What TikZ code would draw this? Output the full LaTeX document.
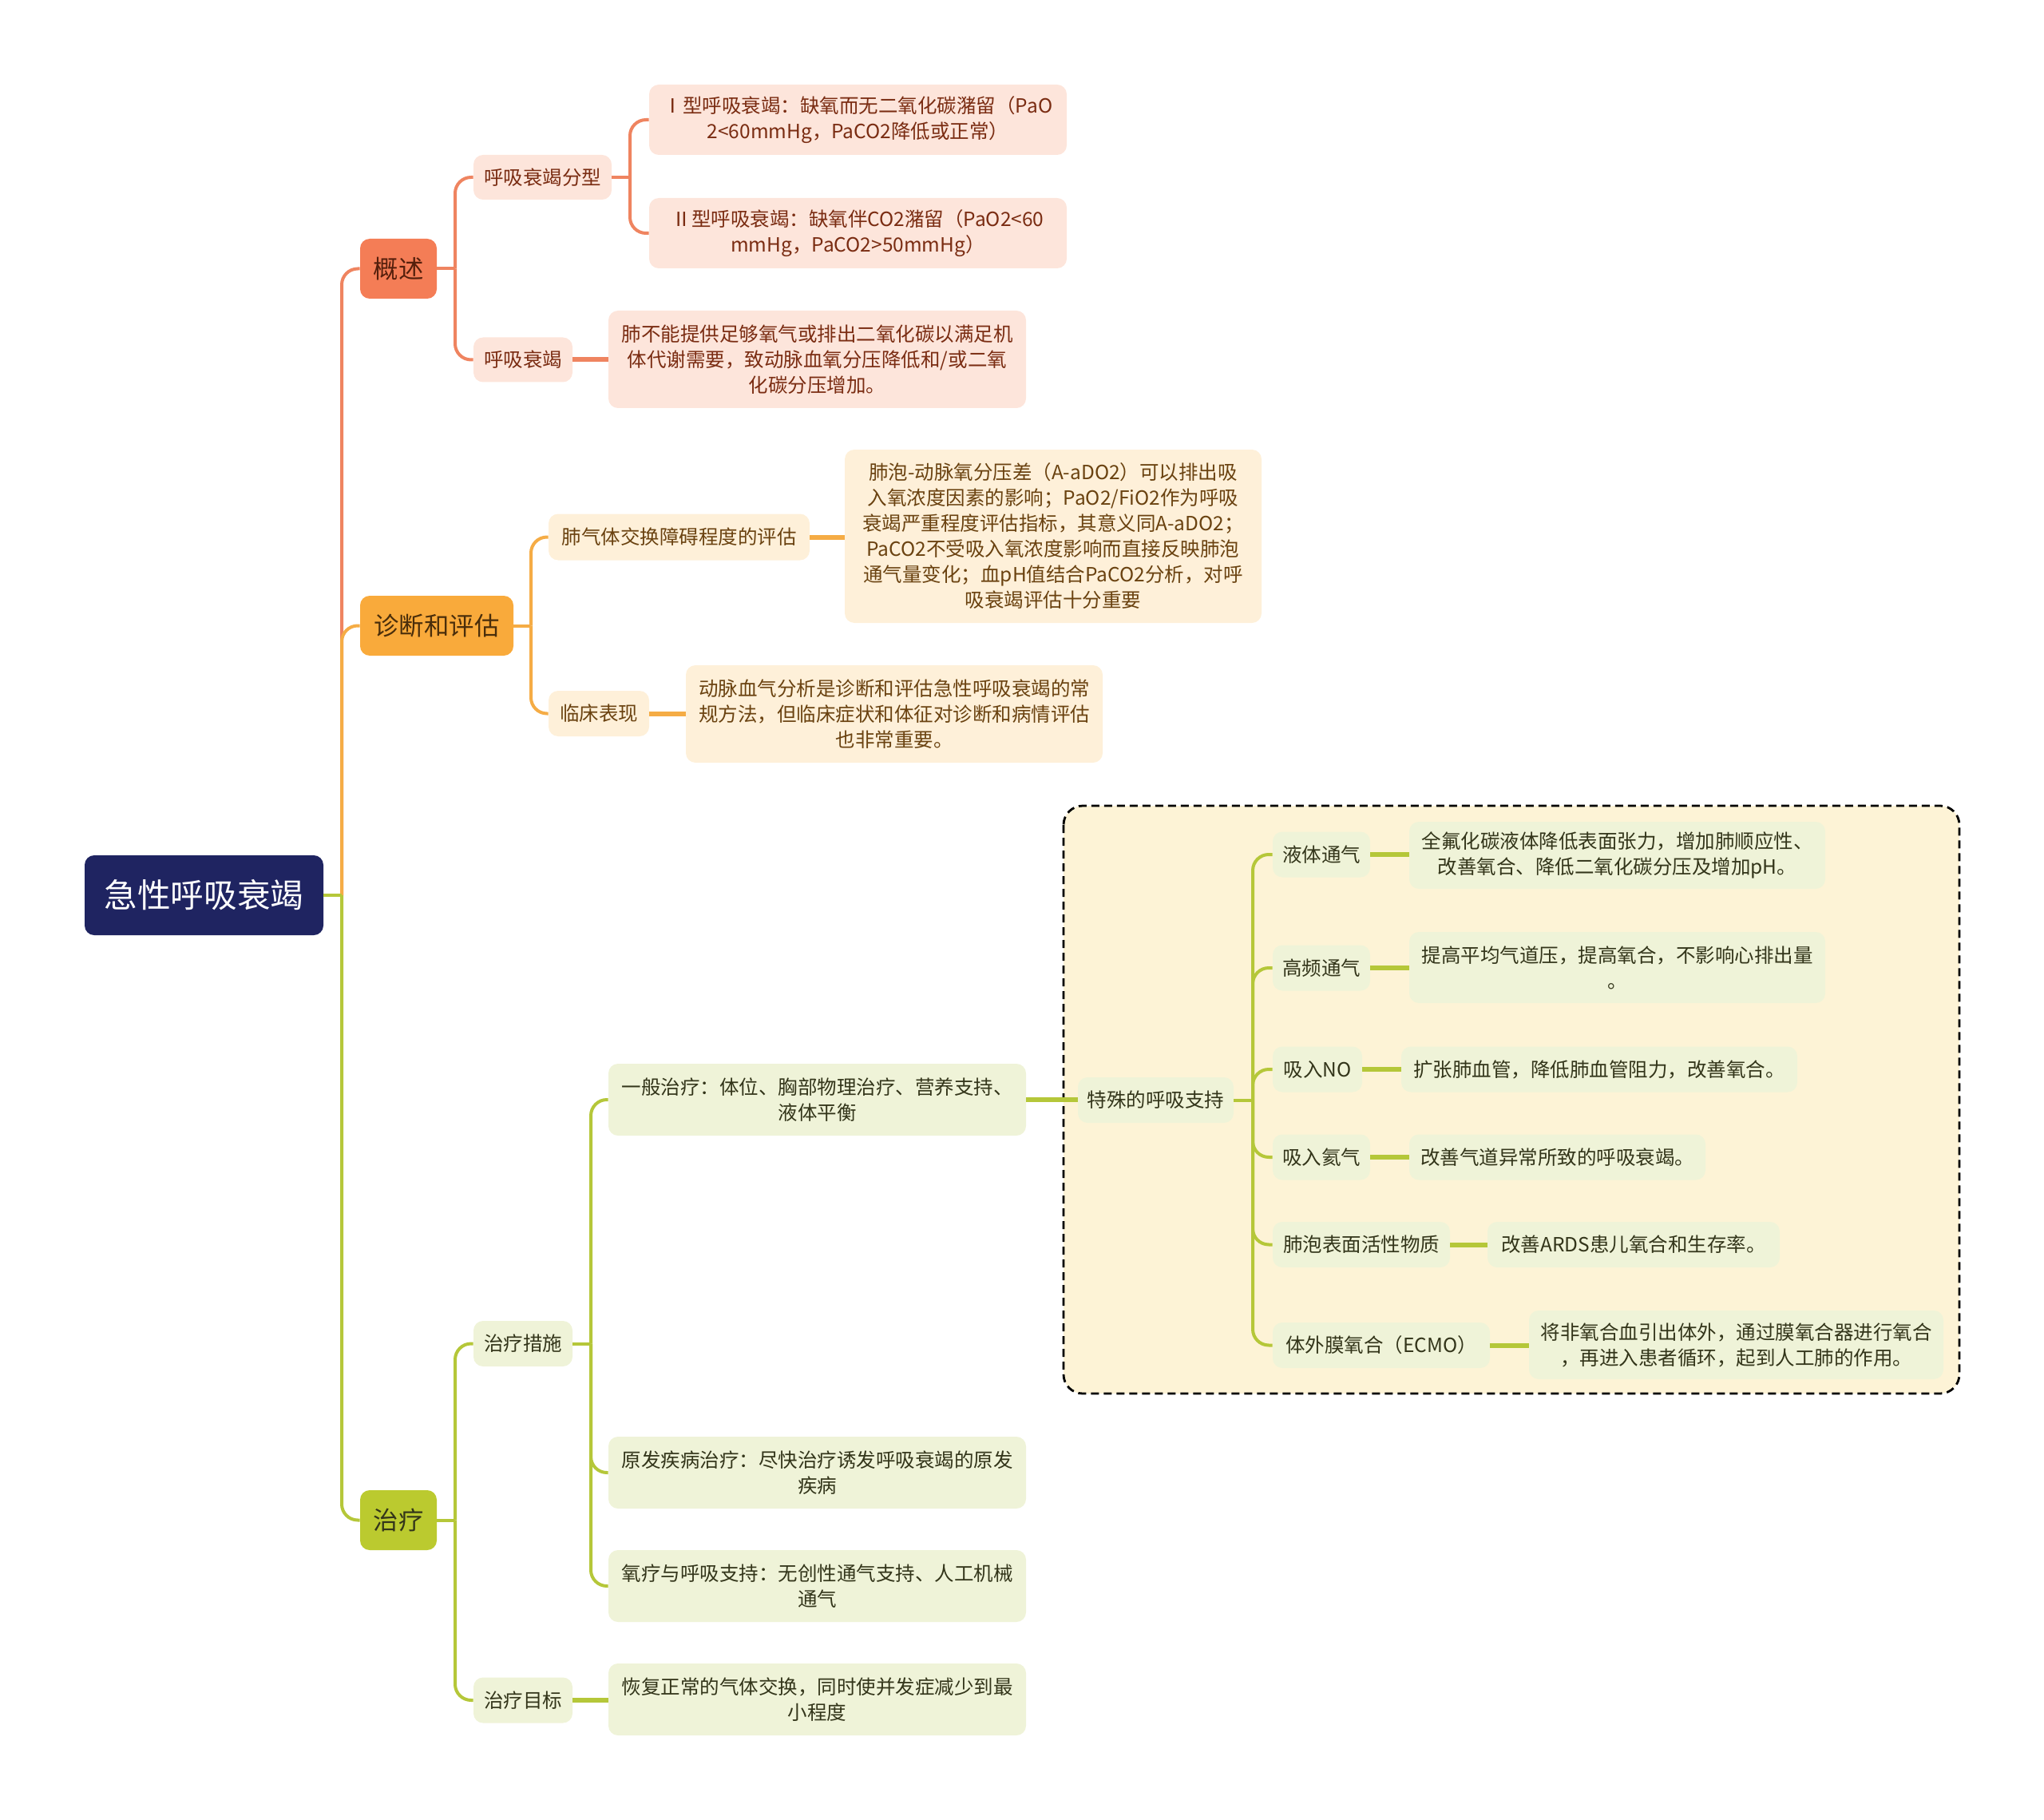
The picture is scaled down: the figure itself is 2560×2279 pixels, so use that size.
\documentclass[tikz,border=0pt]{standalone}
\usepackage{fontspec}
\setmainfont{Noto Sans CJK SC}
\usepackage{xcolor}
\usepackage{tikz}
\definecolor{navyRoot}{HTML}{1F2461}
\definecolor{coralMain}{HTML}{F47D56}
\definecolor{coralLine}{HTML}{EF8460}
\definecolor{coralPale}{HTML}{FDE5DB}
\definecolor{coralText}{HTML}{7A2C12}
\definecolor{amberMain}{HTML}{F9AA3B}
\definecolor{amberLine}{HTML}{F5AC45}
\definecolor{amberPale}{HTML}{FEF0D9}
\definecolor{amberText}{HTML}{6A4210}
\definecolor{oliveMain}{HTML}{BBCA2F}
\definecolor{oliveLine}{HTML}{B5C739}
\definecolor{olivePale}{HTML}{EFF3D8}
\definecolor{oliveText}{HTML}{33351A}
\definecolor{creamFrame}{HTML}{FDF3D6}

\begin{document}
\begin{tikzpicture}[x=0.5pt,y=-0.5pt]

            \useasboundingbox (0,0) rectangle (2560,2279);

            \tikzset{
                mapbox/.style={
                    rounded corners=6pt,
                    inner sep=0pt,
                    align=center,
                    font=\fontsize{12.25pt}{16pt}\selectfont
                },
                rootbox/.style={mapbox, fill=navyRoot, text=white,
                    font=\fontsize{20.8pt}{24pt}\selectfont},
                topicbox/.style={mapbox, font=\fontsize{15.7pt}{19pt}\selectfont},
                coralbox/.style={mapbox, fill=coralPale, text=coralText},
                amberbox/.style={mapbox, fill=amberPale, text=amberText},
                olivebox/.style={mapbox, fill=olivePale, text=oliveText},
                trunkline/.style={line width=2pt},
                leafline/.style={line width=3pt}
            }

            % name, style, centre x, centre y, width, height, text
            \newcommand{\MapNode}[7]{%
                \node[#2, minimum width=#5*0.5pt, minimum height=#6*0.5pt] (#1) at (#3,#4) {#7};
            }

            % colour, parent, trunk, child
            \newcommand{\Branch}[4]{%
                \draw[trunkline, #1] (#2.east) -- (#2.east -| #3);
                \draw[trunkline, #1, rounded corners=10pt] (#2.east -| #3) |- (#4.west);
            }

            \newcommand{\Leaf}[3]{%
                \draw[leafline, #1] (#2.east) -- (#2.east -| #3.west);
            }

            % dashed frame round the special support
            \draw[fill=creamFrame, dashed, dash pattern=on 5pt off 3pt,
                line width=1.4pt, rounded corners=12pt] (1332,1009) rectangle (2454,1745);

            \coordinate (rootTrunk) at (428,0);
            \coordinate (gaishuTrunk) at (570,0);
            \coordinate (fenxingTrunk) at (789,0);
            \coordinate (zhenduanTrunk) at (665,0);
            \coordinate (zhiliaoTrunk) at (570,0);
            \coordinate (cuoshiTrunk) at (740,0);
            \coordinate (teshuTrunk) at (1569,0);

            \MapNode{root}{rootbox}{255.5}{1121}{299}{100}{急性呼吸衰竭}

            \MapNode{gaishu}{topicbox, fill=coralMain, text=coralText!70!black}{499}{336.5}{96}{75}{概述}
            \MapNode{zhenduan}{topicbox, fill=amberMain, text=amberText!70!black}{547}{783.5}{192}{75}{诊断和评估}
            \MapNode{zhiliao}{topicbox, fill=oliveMain, text=oliveText}{499}{1903.5}{96}{75}{治疗}

            \MapNode{fenxing}{coralbox}{679.5}{222}{173}{56}{呼吸衰竭分型}
            \MapNode{shuaijie}{coralbox}{655}{450.5}{124}{56}{呼吸衰竭}
            \MapNode{typeOne}{coralbox}{1074.5}{150}{523}{88}{Ⅰ型呼吸衰竭：缺氧而无二氧化碳潴留（PaO\\2<60mmHg，PaCO2降低或正常）}
            \MapNode{typeTwo}{coralbox}{1074.5}{292}{523}{88}{Ⅱ型呼吸衰竭：缺氧伴CO2潴留（PaO2<60\\mmHg，PaCO2>50mmHg）}
            \MapNode{dingyi}{coralbox}{1023.5}{450}{523}{122}{肺不能提供足够氧气或排出二氧化碳以满足机\\体代谢需要，致动脉血氧分压降低和/或二氧\\化碳分压增加。}

            \MapNode{pinggu}{amberbox}{850.5}{672.5}{327}{58}{肺气体交换障碍程度的评估}
            \MapNode{linchuang}{amberbox}{750}{893.5}{126}{57}{临床表现}
            \MapNode{fenya}{amberbox}{1319}{671.5}{522}{217}{肺泡-动脉氧分压差（A-aDO2）可以排出吸\\入氧浓度因素的影响；PaO2/FiO2作为呼吸\\衰竭严重程度评估指标，其意义同A-aDO2；\\PaCO2不受吸入氧浓度影响而直接反映肺泡\\通气量变化；血pH值结合PaCO2分析，对呼\\吸衰竭评估十分重要}
            \MapNode{xueqi}{amberbox}{1120}{894}{522}{122}{动脉血气分析是诊断和评估急性呼吸衰竭的常\\规方法，但临床症状和体征对诊断和病情评估\\也非常重要。}

            \MapNode{cuoshi}{olivebox}{655}{1682.5}{124}{57}{治疗措施}
            \MapNode{mubiao}{olivebox}{655}{2129}{124}{57}{治疗目标}
            \MapNode{yiban}{olivebox}{1023.5}{1377}{523}{90}{一般治疗：体位、胸部物理治疗、营养支持、\\液体平衡}
            \MapNode{yuanfa}{olivebox}{1023.5}{1844}{523}{90}{原发疾病治疗：尽快治疗诱发呼吸衰竭的原发\\疾病}
            \MapNode{yangliao}{olivebox}{1023.5}{1986}{523}{90}{氧疗与呼吸支持：无创性通气支持、人工机械\\通气}
            \MapNode{huifu}{olivebox}{1023.5}{2128}{523}{90}{恢复正常的气体交换，同时使并发症减少到最\\小程度}

            \MapNode{teshu}{olivebox}{1447.5}{1377.5}{195}{57}{特殊的呼吸支持}
            \MapNode{yeti}{olivebox}{1655}{1070}{122}{57}{液体通气}
            \MapNode{gaopin}{olivebox}{1655}{1212}{122}{57}{高频通气}
            \MapNode{xiruNO}{olivebox}{1650}{1339}{112}{57}{吸入NO}
            \MapNode{haiqi}{olivebox}{1655}{1449}{122}{57}{吸入氦气}
            \MapNode{huoxing}{olivebox}{1705}{1558.5}{222}{57}{肺泡表面活性物质}
            \MapNode{ecmo}{olivebox}{1730}{1684.5}{272}{57}{体外膜氧合（ECMO）}
            \MapNode{yetiNote}{olivebox}{2025.5}{1071}{521}{84}{全氟化碳液体降低表面张力，增加肺顺应性、\\改善氧合、降低二氧化碳分压及增加pH。}
            \MapNode{gaopinNote}{olivebox}{2025.5}{1211.5}{521}{89}{提高平均气道压，提高氧合，不影响心排出量\\。}
            \MapNode{xiruNote}{olivebox}{2003}{1339}{496}{57}{扩张肺血管，降低肺血管阻力，改善氧合。}
            \MapNode{haiqiNote}{olivebox}{1950.5}{1449}{371}{57}{改善气道异常所致的呼吸衰竭。}
            \MapNode{huoxingNote}{olivebox}{2046}{1558.5}{366}{57}{改善ARDS患儿氧合和生存率。}
            \MapNode{ecmoNote}{olivebox}{2174.5}{1684}{519}{86}{将非氧合血引出体外，通过膜氧合器进行氧合\\，再进入患者循环，起到人工肺的作用。}

            % connectors
            \Branch{coralLine}{root}{rootTrunk}{gaishu}
            \Branch{amberLine}{root}{rootTrunk}{zhenduan}
            \Branch{oliveLine}{root}{rootTrunk}{zhiliao}

            \Branch{coralLine}{gaishu}{gaishuTrunk}{fenxing}
            \Branch{coralLine}{gaishu}{gaishuTrunk}{shuaijie}
            \Branch{coralLine}{fenxing}{fenxingTrunk}{typeOne}
            \Branch{coralLine}{fenxing}{fenxingTrunk}{typeTwo}
            \Leaf{coralLine}{shuaijie}{dingyi}

            \Branch{amberLine}{zhenduan}{zhenduanTrunk}{pinggu}
            \Branch{amberLine}{zhenduan}{zhenduanTrunk}{linchuang}
            \Leaf{amberLine}{pinggu}{fenya}
            \Leaf{amberLine}{linchuang}{xueqi}

            \Branch{oliveLine}{zhiliao}{zhiliaoTrunk}{cuoshi}
            \Branch{oliveLine}{zhiliao}{zhiliaoTrunk}{mubiao}
            \Branch{oliveLine}{cuoshi}{cuoshiTrunk}{yiban}
            \Branch{oliveLine}{cuoshi}{cuoshiTrunk}{yuanfa}
            \Branch{oliveLine}{cuoshi}{cuoshiTrunk}{yangliao}
            \Leaf{oliveLine}{mubiao}{huifu}
            \Leaf{oliveLine}{yiban}{teshu}

            \foreach \kind in {yeti, gaopin, xiruNO, haiqi, huoxing, ecmo} {
                \Branch{oliveLine}{teshu}{teshuTrunk}{\kind}
            }
            \Leaf{oliveLine}{yeti}{yetiNote}
            \Leaf{oliveLine}{gaopin}{gaopinNote}
            \Leaf{oliveLine}{xiruNO}{xiruNote}
            \Leaf{oliveLine}{haiqi}{haiqiNote}
            \Leaf{oliveLine}{huoxing}{huoxingNote}
            \Leaf{oliveLine}{ecmo}{ecmoNote}

        \end{tikzpicture}
\end{document}
